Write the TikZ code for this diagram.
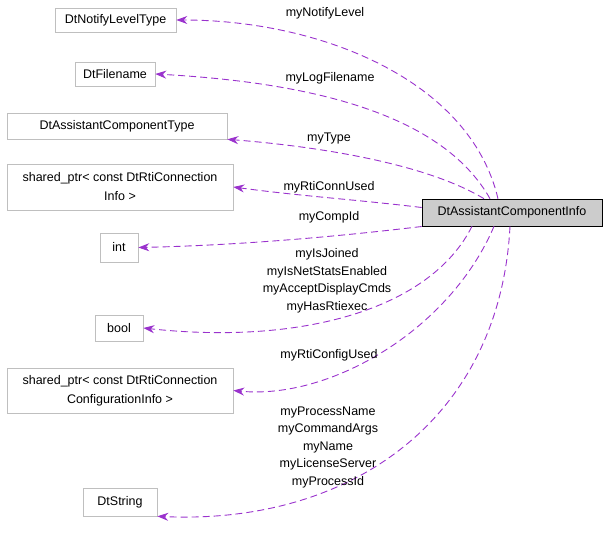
\documentclass[tikz,border=0pt]{standalone}
\usepackage{fontspec}
\setmainfont{Liberation Sans}
\usetikzlibrary{arrows.meta}
\definecolor{edgec}{HTML}{9A32CD}
\definecolor{boxc}{HTML}{BFBFBF}
\begin{document}
\begin{tikzpicture}[x=1pt,y=-1pt,
  box/.style={draw=boxc,line width=0.6pt,fill=white,inner sep=0pt,align=center,font=\fontsize{12.5}{19}\selectfont},
  edge/.style={draw=edgec,dash pattern=on 7pt off 4pt,line width=0.9pt,-{Stealth[length=11pt,width=8pt]}},
  lbl/.style={font=\fontsize{12.5}{17.5}\selectfont,align=center,inner sep=0pt}]
\useasboundingbox (0,0) rectangle (608,533);
\node[box,minimum width=121,minimum height=24] (nl) at (115.5,20) {DtNotifyLevelType};
\node[box,minimum width=80,minimum height=24] (fn) at (115,74) {DtFilename};
\node[box,minimum width=220,minimum height=26] (ty) at (117,126) {DtAssistantComponentType};
\node[box,minimum width=226,minimum height=46] (rc) at (120,187) {shared\_ptr< const DtRtiConnection\\Info >};
\node[box,minimum width=38,minimum height=29] (in) at (119,247.5) {int};
\node[box,minimum width=48,minimum height=26] (bo) at (119,328) {bool};
\node[box,minimum width=226,minimum height=45] (cf) at (120,390.5) {shared\_ptr< const DtRtiConnection\\ConfigurationInfo >};
\node[box,draw=boxc,minimum width=74,minimum height=28] (ds) at (120,502) {DtString};
\node[box,draw=black,fill=lightgray!80,minimum width=180,minimum height=27] (m) at (512,212.5) {DtAssistantComponentInfo};
\path[edge] (m.north) ++(-14,0) .. controls (470,80) and (320,20) .. (nl.east);
\path[edge] (m.north) ++(-22,0) .. controls (440,110) and (300,82) .. (fn.east);
\path[edge] (m.north) ++(-28,0) .. controls (420,160) and (300,145) .. (ty.south east);
\path[edge] (m.west) ++(0,-5) .. controls (360,200) and (300,196) .. (rc.east);
\path[edge] (m.west) ++(0,14) .. controls (350,235) and (250,245) .. (in.east);
\path[edge] (m.south) ++(-40,0) .. controls (430,310) and (300,345) .. (bo.east);
\path[edge] (m.south) ++(-18,0) .. controls (450,330) and (330,400) .. (cf.east);
\path[edge] (m.south) ++(-2,0) .. controls (500,420) and (350,525) .. (ds.south east);
\node[lbl] at (325,13) {myNotifyLevel};
\node[lbl] at (330,78) {myLogFilename};
\node[lbl] at (329,138) {myType};
\node[lbl] at (329,187) {myRtiConnUsed};
\node[lbl] at (329,217) {myCompId};
\node[lbl] at (327,281) {myIsJoined\\myIsNetStatsEnabled\\myAcceptDisplayCmds\\myHasRtiexec};
\node[lbl] at (329,355) {myRtiConfigUsed};
\node[lbl] at (328,447) {myProcessName\\myCommandArgs\\myName\\myLicenseServer\\myProcessId};
\end{tikzpicture}
\end{document}
